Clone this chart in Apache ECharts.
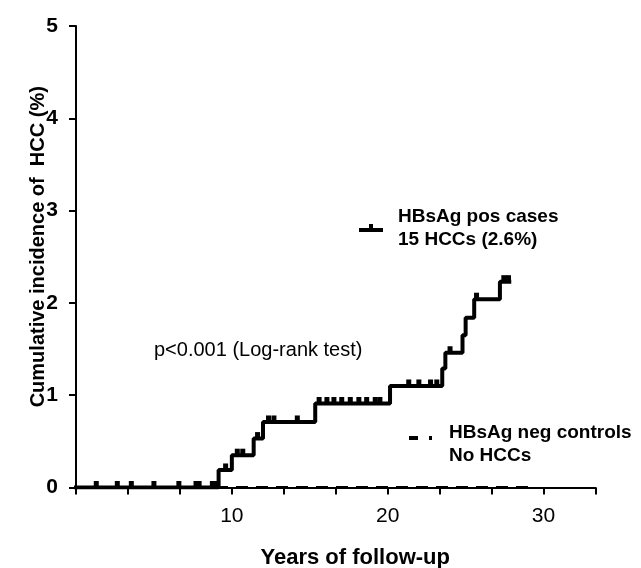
<!DOCTYPE html>
<html>
<head>
<meta charset="utf-8">
<script src="https://cdn.jsdelivr.net/npm/echarts@6/dist/echarts.min.js"></script>
<style>
  html, body { margin: 0; padding: 0; background: #fff; }
  #chart { width: 641px; height: 568px; }
</style>
</head>
<body>
<div id="chart"></div>
<script>
// HBsAg pos cases: step curve (time in years, cumulative incidence %)
const posStepTimes  = [0, 9.15, 10.0, 11.4, 12.0, 15.35, 20.15, 23.5, 23.7, 24.8, 25.0, 25.55, 27.2, 27.8];
const posStepLevels = [0, 0.19, 0.35, 0.53, 0.71, 0.91,  1.10,  1.29, 1.46, 1.65, 1.84, 2.04,  2.23, 2.23];
// censored observations (tick marks) on the HBsAg pos curve
const posCensorTimes = [1.3, 2.65, 3.55, 5.0, 6.6, 7.7, 7.9, 8.75, 8.95,
  9.6, 10.35, 10.7, 11.65, 12.35, 12.7, 14.2,
  15.6, 16.1, 16.55, 17.05, 17.6, 18.15, 18.65, 19.2, 19.5,
  21.35, 22.0, 22.75, 23.15, 24.0, 25.7, 27.45, 27.75];
// HBsAg neg controls: no HCCs
const negTimes  = [0, 29.5];
const negLevels = [0, 0];
// axis labels
const xLabelYears = [10, 20, 30];
const yTicks = [0, 1, 2, 3, 4, 5];

const FONT = "'Liberation Sans', Arial, sans-serif";

function levelAt(t) {
  let lv = 0;
  for (let i = 0; i < posStepTimes.length; i++) {
    if (posStepTimes[i] <= t) lv = posStepLevels[i];
  }
  return lv;
}

const posData = posStepTimes.map((t, i) => [t, posStepLevels[i]]);
const censorData = posCensorTimes.map(t => [t, levelAt(t)]);
const negData = negTimes.map((t, i) => [t, negLevels[i]]);

const chart = echarts.init(document.getElementById('chart'), null, { renderer: 'canvas' });

chart.setOption({
  animation: false,
  backgroundColor: '#ffffff',
  grid: { left: 76, right: 45.5, top: 26, bottom: 80.5, containLabel: false, outerBoundsMode: 'none' },
  xAxis: {
    type: 'value',
    min: 0,
    max: 100 / 3,
    interval: 10 / 3,
    name: 'Years of follow-up',
    nameLocation: 'middle',
    nameGap: 59,
    nameMoveOverlap: false,
    nameTextStyle: { fontFamily: FONT, fontWeight: 'bold', fontSize: 22, color: '#000', padding: [0, 0, 0, 39] },
    axisLine: { show: true, onZero: false, lineStyle: { color: '#000', width: 2 } },
    axisTick: { show: true, inside: false, length: 7, lineStyle: { color: '#000', width: 2 } },
    splitLine: { show: false },
    axisLabel: {
      margin: 18,
      interval: 0,
      hideOverlap: false,
      showMinLabel: true,
      showMaxLabel: true,
      fontFamily: FONT,
      fontSize: 21,
      color: '#000',
      formatter: function (v) {
        for (const y of xLabelYears) {
          if (Math.abs(v - y) < 1e-6) return String(y);
        }
        return '';
      }
    }
  },
  yAxis: {
    type: 'value',
    min: yTicks[0],
    max: yTicks[yTicks.length - 1],
    interval: 1,
    name: 'Cumulative incidence of  HCC (%)',
    nameLocation: 'middle',
    nameGap: 28,
    nameMoveOverlap: false,
    nameRotate: 90,
    nameTextStyle: { fontFamily: FONT, fontWeight: 'bold', fontSize: 20, color: '#000', padding: [0, 0, 0, 20] },
    axisLine: { show: true, onZero: false, lineStyle: { color: '#000', width: 2 } },
    axisTick: { show: true, inside: false, length: 7, lineStyle: { color: '#000', width: 2 } },
    splitLine: { show: false },
    axisLabel: {
      margin: 18,
      fontFamily: "'Liberation Sans Narrow', 'Liberation Sans', Arial, sans-serif",
      fontWeight: 'bold',
      fontSize: 21,
      color: '#000'
    }
  },
  legend: [
    {
      data: [{ name: 'HBsAg pos cases', icon: 'path://M0,4L24,4L24,8L0,8Z M10,0L14,0L14,4L10,4Z' }],
      left: 359,
      top: 207,
      padding: 0,
      orient: 'vertical',
      itemWidth: 24,
      itemHeight: 8,
      selectedMode: false,
      itemStyle: { color: '#000' },
      formatter: function (name) {
        return '{g|}{t|' + name + '}\n{g|}{t|15 HCCs (2.6%)}';
      },
      textStyle: {
        rich: {
          g: { width: 10 },
          t: { fontFamily: FONT, fontWeight: 'bold', fontSize: 19, color: '#000', lineHeight: 23 }
        }
      }
    },
    {
      data: [{ name: 'HBsAg neg controls', icon: 'path://M0,0L9,0L9,4L0,4Z M20,0L23,0L23,4L20,4Z M0,16L0.05,16L0.05,16Z' }],
      left: 409,
      top: 423,
      padding: 0,
      orient: 'vertical',
      itemWidth: 23,
      itemHeight: 16,
      selectedMode: false,
      itemStyle: { color: '#000' },
      formatter: function (name) {
        return '{g|}{t|' + name + '}\n{g|}{t|No HCCs}';
      },
      textStyle: {
        rich: {
          g: { width: 12 },
          t: { fontFamily: FONT, fontWeight: 'bold', fontSize: 19, color: '#000', lineHeight: 23 }
        }
      }
    }
  ],
  graphic: [
    {
      type: 'text',
      left: 154,
      top: 340,
      style: { text: 'p<0.001 (Log-rank test)', font: '20px ' + FONT, fill: '#000' }
    }
  ],
  series: [
    {
      name: 'HBsAg neg controls',
      type: 'line',
      data: negData,
      symbol: 'none',
      z: 2,
      lineStyle: { color: '#000', width: 3, type: [12, 8] },
      itemStyle: { color: '#000' }
    },
    {
      name: 'HBsAg pos cases',
      type: 'line',
      step: 'end',
      data: posData,
      symbol: 'none',
      z: 3,
      lineStyle: { color: '#000', width: 4, cap: 'square' },
      itemStyle: { color: '#000' }
    },
    {
      name: 'HBsAg pos censored',
      type: 'scatter',
      data: censorData,
      symbol: 'rect',
      symbolSize: [5, 7],
      symbolOffset: [0, -3],
      z: 4,
      itemStyle: { color: '#000', opacity: 1 },
      silent: true
    }
  ]
});
</script>
</body>
</html>
